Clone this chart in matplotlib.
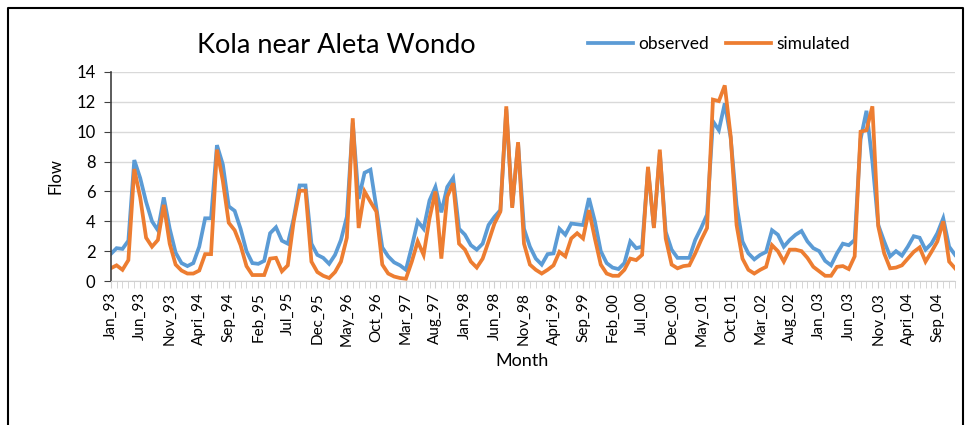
import matplotlib
matplotlib.use("Agg")
import matplotlib.pyplot as plt
import numpy as np

plt.rcParams['font.family'] = ['Lato', 'DejaVu Sans']

# monthly flow, Jan 1993 .. Dec 2004
observed = [
    1.8, 2.2, 2.15, 2.7, 8.1, 6.9, 5.3, 4.0, 3.4, 5.6,
    3.5, 1.9, 1.2, 1.0, 1.2, 2.3, 4.2, 4.2, 9.1, 7.8,
    5.0, 4.7, 3.5, 2.0, 1.2, 1.15, 1.35, 3.2, 3.6, 2.7,
    2.5, 4.2, 6.4, 6.4, 2.5, 1.75, 1.55, 1.15, 1.75, 2.75,
    4.3, 10.6, 5.5, 7.25, 7.45, 4.9, 2.25, 1.65, 1.25, 1.05,
    0.75, 2.3, 4.0, 3.5, 5.4, 6.3, 4.6, 6.3, 6.9, 3.5,
    3.1, 2.4, 2.1, 2.5, 3.75, 4.3, 4.75, 11.5, 5.0, 9.2,
    3.5, 2.3, 1.5, 1.1, 1.8, 1.85, 3.5, 3.1, 3.85, 3.8,
    3.75, 5.55, 4.0, 2.0, 1.2, 0.9, 0.8, 1.2, 2.65, 2.2,
    2.3, 7.5, 3.6, 8.6, 3.3, 2.1, 1.55, 1.55, 1.55, 2.75,
    3.55, 4.45, 10.7, 10.1, 11.9, 9.6, 5.1, 2.65, 1.85, 1.45,
    1.75, 1.95, 3.4, 3.1, 2.3, 2.75, 3.1, 3.35, 2.65, 2.2,
    2.0, 1.35, 1.05, 1.85, 2.5, 2.4, 2.75, 9.5, 11.4, 8.0,
    3.75, 2.65, 1.65, 2.0, 1.7, 2.3, 3.0, 2.9, 2.1, 2.5,
    3.2, 4.2, 2.3, 1.75,
]
simulated = [
    0.85, 1.05, 0.75, 1.4, 7.5, 5.6, 2.9, 2.3, 2.75, 5.1,
    2.5, 1.1, 0.7, 0.5, 0.5, 0.7, 1.8, 1.8, 8.8, 6.7,
    3.9, 3.4, 2.4, 1.0, 0.4, 0.4, 0.4, 1.5, 1.55, 0.65,
    1.05, 4.0, 6.05, 6.05, 1.3, 0.6, 0.35, 0.2, 0.6, 1.3,
    2.9, 10.9, 3.55, 6.0, 5.3, 4.65, 1.1, 0.5, 0.3, 0.2,
    0.15, 1.3, 2.65, 1.75, 4.2, 6.0, 1.5, 5.65, 6.55, 2.5,
    2.1, 1.3, 0.9, 1.5, 2.65, 3.85, 4.65, 11.7, 4.9, 9.3,
    2.5, 1.1, 0.75, 0.5, 0.75, 1.05, 1.95, 1.65, 2.85, 3.2,
    2.85, 4.75, 2.85, 1.1, 0.5, 0.35, 0.35, 0.75, 1.5, 1.4,
    1.75, 7.65, 3.55, 8.8, 2.85, 1.1, 0.85, 1.0, 1.05, 1.85,
    2.75, 3.55, 12.15, 12.05, 13.1, 9.7, 3.75, 1.5, 0.75, 0.5,
    0.75, 0.95, 2.4, 2.0, 1.3, 2.1, 2.1, 2.0, 1.55, 0.95,
    0.65, 0.35, 0.35, 0.95, 1.0, 0.8, 1.65, 10.0, 10.1, 11.7,
    3.65, 1.85, 0.85, 0.9, 1.05, 1.5, 1.95, 2.25, 1.3, 1.95,
    2.65, 4.0, 1.3, 0.85,
]
tick_labels = [
    'Jan_93', 'Jun_93', 'Nov_93', 'Apri_94', 'Sep_94', 'Feb_95', 'Jul_95',
    'Dec_95', 'May_96', 'Oct_96', 'Mar_97', 'Aug_97', 'Jan_98', 'Jun_98',
    'Nov_98', 'Apri_99', 'Sep_99', 'Feb_00', 'Jul_00', 'Dec_00', 'May_01',
    'Oct_01', 'Mar_02', 'Aug_02', 'Jan_03', 'Jun_03', 'Nov_03', 'Apri_04',
    'Sep_04',
]

x = np.arange(len(observed))

fig = plt.figure(figsize=(9.69, 4.25), dpi=100)
ax = fig.add_axes([0.1142, 0.3388, 0.8714, 0.4918])

ax.plot(x, observed, color='#5B9BD5', lw=2.7, label='observed', solid_joinstyle='miter')
ax.plot(x, simulated, color='#ED7D31', lw=2.7, label='simulated', solid_joinstyle='miter')

ax.set_xlim(0, len(observed) - 1)
ax.set_ylim(0, 14)
ax.set_yticks(np.arange(0, 15, 2))
ax.set_xticks(x, minor=True)
ax.set_xticks(x[::5])
ax.set_xticklabels(tick_labels, rotation=90, fontsize=11)
ax.tick_params(axis='x', which='both', length=5, color='#d0d0d0', pad=3)
ax.tick_params(axis='y', length=5, color='#404040', labelsize=12, pad=6)
ax.grid(axis='y', color='#d9d9d9', lw=1)
ax.set_axisbelow(True)

for s in ['top', 'right']:
    ax.spines[s].set_visible(False)
ax.spines['left'].set_color('#404040')
ax.spines['left'].set_linewidth(1.2)
ax.spines['bottom'].set_color('#d0d0d0')

ax.set_ylabel('Flow', fontsize=12, labelpad=9)
ax.set_xlabel('Month', fontsize=13)
ax.xaxis.set_label_coords(0.487, -0.345)

fig.text(0.347, 0.893, 'Kola near Aleta Wondo', fontsize=19.5, ha='center', va='center')
fig.legend(loc='center', bbox_to_anchor=(0.742, 0.897), ncol=2, frameon=False,
           fontsize=12.5, handlelength=2.6, handletextpad=0.3, columnspacing=1.0)

# outer frame
fig.add_artist(plt.Line2D([0.008, 0.008, 0.994, 0.994], [0.0, 0.982, 0.982, 0.0],
                          transform=fig.transFigure, color='black', lw=1.5))

fig.savefig('out.png', dpi=100)
